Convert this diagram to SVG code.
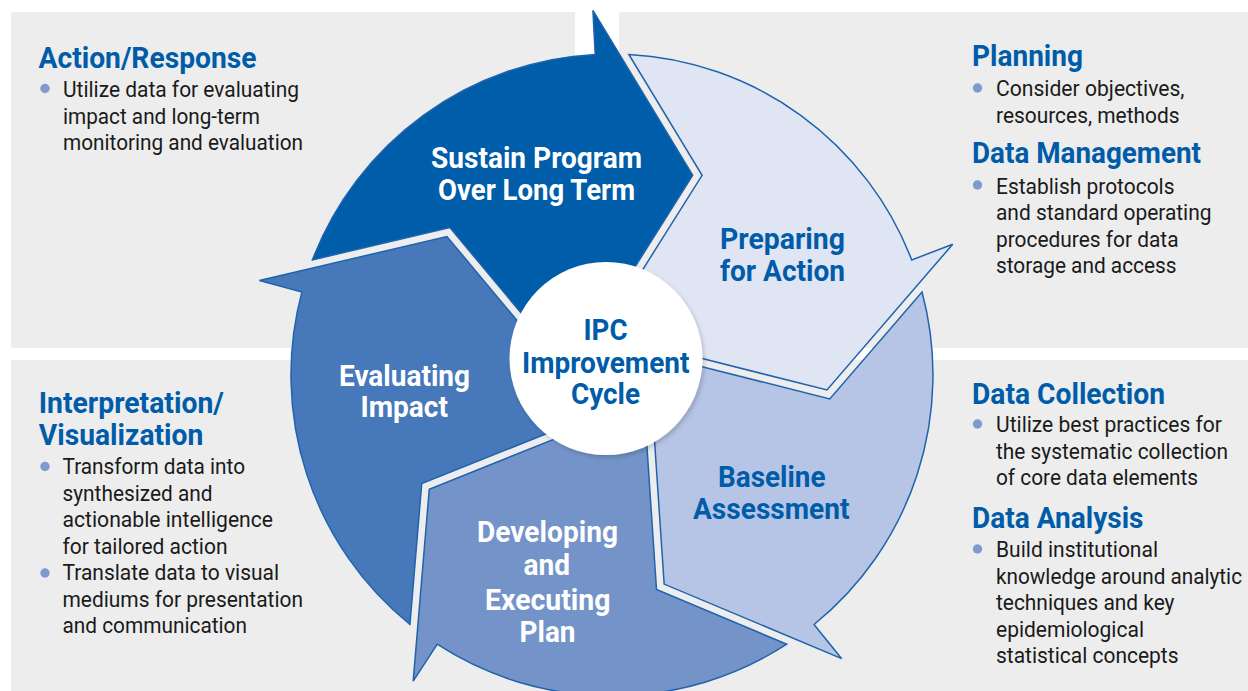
<svg xmlns="http://www.w3.org/2000/svg" xmlns:xlink="http://www.w3.org/1999/xlink" width="1248" height="691" viewBox="0 0 1248 691">
<defs>
<style>
.panel{fill:#EDEDED}
.h{font-family:Roboto,'Liberation Sans',Arial,sans-serif;font-weight:700;font-size:30px;fill:#005CA9}
.b{font-family:Roboto,'Liberation Sans',Arial,sans-serif;font-weight:400;font-size:22.5px;fill:#1A1A1A}
.lw{font-family:Roboto,'Liberation Sans',Arial,sans-serif;font-weight:700;font-size:29.5px;fill:#FFFFFF}
.lb{font-family:Roboto,'Liberation Sans',Arial,sans-serif;font-weight:700;font-size:29.5px;fill:#005CA9}
.c{font-family:Roboto,'Liberation Sans',Arial,sans-serif;font-weight:700;font-size:29.5px;fill:#005CA9}
.dot{fill:#7E9ACE}
.seg{stroke:#1F63AE;stroke-width:1.5;stroke-linejoin:miter}
</style>
<path id="segshape" d="M 312.4 259.9 A 321 321 0 0 1 595.2 54.4 L 592.9 10.5 L 692.7 175.2 L 608.5 309.1 L 554.3 352.8 L 449.9 227.6 Z"/>
<filter id="shadow" x="-20%" y="-20%" width="140%" height="140%">
<feDropShadow dx="2" dy="2.5" stdDeviation="2" flood-color="#000000" flood-opacity="0.18"/>
</filter>
</defs>
<rect width="1248" height="691" fill="#FFFFFF"/>
<g id="panels">
<rect class="panel" x="11" y="12" width="564" height="336"/>
<rect class="panel" x="619" y="12" width="629" height="336"/>
<rect class="panel" x="11" y="360" width="1237" height="331"/>
</g>
<g id="connectors"></g>
<g id="node-sustain">
<use xlink:href="#segshape" class="seg" fill="#005DA9"/>
<text class="lw" x="431" y="167.5" textLength="211" lengthAdjust="spacingAndGlyphs">Sustain Program</text>
<text class="lw" x="438" y="199.5" textLength="197" lengthAdjust="spacingAndGlyphs">Over Long Term</text>
</g>
<g id="node-preparing">
<use xlink:href="#segshape" class="seg" fill="#DFE5F3" transform="rotate(72 612 375)"/>
<text class="lb" x="720" y="249" textLength="125" lengthAdjust="spacingAndGlyphs">Preparing</text>
<text class="lb" x="720" y="281" textLength="125" lengthAdjust="spacingAndGlyphs">for Action</text>
</g>
<g id="node-baseline">
<use xlink:href="#segshape" class="seg" fill="#B6C5E6" transform="rotate(144 612 375)"/>
<text class="lb" x="718" y="487" textLength="107.5" lengthAdjust="spacingAndGlyphs">Baseline</text>
<text class="lb" x="693" y="518.5" textLength="156.5" lengthAdjust="spacingAndGlyphs">Assessment</text>
</g>
<g id="node-developing">
<use xlink:href="#segshape" class="seg" fill="#7494C9" transform="rotate(216 612 375)"/>
<text class="lw" x="477" y="542" textLength="141" lengthAdjust="spacingAndGlyphs">Developing</text>
<text class="lw" x="523.5" y="574.5" textLength="46.5" lengthAdjust="spacingAndGlyphs">and</text>
<text class="lw" x="485" y="609.5" textLength="125.5" lengthAdjust="spacingAndGlyphs">Executing</text>
<text class="lw" x="519.5" y="641.5" textLength="56" lengthAdjust="spacingAndGlyphs">Plan</text>
</g>
<g id="node-evaluating">
<use xlink:href="#segshape" class="seg" fill="#4779BA" transform="rotate(288 612 375)"/>
<text class="lw" x="339" y="385.5" textLength="131" lengthAdjust="spacingAndGlyphs">Evaluating</text>
<text class="lw" x="360.5" y="417" textLength="87.5" lengthAdjust="spacingAndGlyphs">Impact</text>
</g>
<g id="node-center">
<circle cx="606" cy="358.5" r="96.5" fill="#FFFFFF" filter="url(#shadow)"/>
<text class="c" x="583.5" y="340" textLength="44" lengthAdjust="spacingAndGlyphs">IPC</text>
<text class="c" x="522" y="372.5" textLength="167.5" lengthAdjust="spacingAndGlyphs">Improvement</text>
<text class="c" x="571" y="403.5" textLength="69" lengthAdjust="spacingAndGlyphs">Cycle</text>
</g>
<g id="panel-action-response">
<text class="h" x="38.5" y="68" textLength="218" lengthAdjust="spacingAndGlyphs">Action/Response</text>
<circle class="dot" cx="45" cy="88.5" r="4.7"/>
<text class="b" x="63" y="97" textLength="236" lengthAdjust="spacingAndGlyphs">Utilize data for evaluating</text>
<text class="b" x="63" y="123.5" textLength="197" lengthAdjust="spacingAndGlyphs">impact and long-term</text>
<text class="b" x="63" y="150" textLength="240" lengthAdjust="spacingAndGlyphs">monitoring and evaluation</text>
</g>
<g id="panel-planning">
<text class="h" x="972" y="66" textLength="111" lengthAdjust="spacingAndGlyphs">Planning</text>
<circle class="dot" cx="977.5" cy="88" r="4.7"/>
<text class="b" x="996" y="96" textLength="188.5" lengthAdjust="spacingAndGlyphs">Consider objectives,</text>
<text class="b" x="996" y="122.5" textLength="183.5" lengthAdjust="spacingAndGlyphs">resources, methods</text>
<text class="h" x="972" y="163" textLength="229" lengthAdjust="spacingAndGlyphs">Data Management</text>
<circle class="dot" cx="977.5" cy="185" r="4.7"/>
<text class="b" x="996" y="193.5" textLength="178.5" lengthAdjust="spacingAndGlyphs">Establish protocols</text>
<text class="b" x="996" y="220" textLength="215.5" lengthAdjust="spacingAndGlyphs">and standard operating</text>
<text class="b" x="996" y="246.5" textLength="182.5" lengthAdjust="spacingAndGlyphs">procedures for data</text>
<text class="b" x="996" y="273" textLength="180.5" lengthAdjust="spacingAndGlyphs">storage and access</text>
</g>
<g id="panel-interpretation">
<text class="h" x="38.8" y="413" textLength="185" lengthAdjust="spacingAndGlyphs">Interpretation/</text>
<text class="h" x="38.8" y="444.5" textLength="164.5" lengthAdjust="spacingAndGlyphs">Visualization</text>
<circle class="dot" cx="45" cy="466.5" r="4.7"/>
<text class="b" x="62.5" y="474" textLength="182.5" lengthAdjust="spacingAndGlyphs">Transform data into</text>
<text class="b" x="62.5" y="500.5" textLength="150" lengthAdjust="spacingAndGlyphs">synthesized and</text>
<text class="b" x="62.5" y="527" textLength="210.5" lengthAdjust="spacingAndGlyphs">actionable intelligence</text>
<text class="b" x="62.5" y="553.5" textLength="165" lengthAdjust="spacingAndGlyphs">for tailored action</text>
<circle class="dot" cx="45" cy="573" r="4.7"/>
<text class="b" x="62.5" y="580" textLength="216.5" lengthAdjust="spacingAndGlyphs">Translate data to visual</text>
<text class="b" x="62.5" y="606.5" textLength="240.5" lengthAdjust="spacingAndGlyphs">mediums for presentation</text>
<text class="b" x="62.5" y="633" textLength="184.5" lengthAdjust="spacingAndGlyphs">and communication</text>
</g>
<g id="panel-data-collection">
<text class="h" x="972" y="404" textLength="193" lengthAdjust="spacingAndGlyphs">Data Collection</text>
<circle class="dot" cx="977.5" cy="424" r="4.7"/>
<text class="b" x="996" y="432" textLength="226" lengthAdjust="spacingAndGlyphs">Utilize best practices for</text>
<text class="b" x="996" y="458.5" textLength="232" lengthAdjust="spacingAndGlyphs">the systematic collection</text>
<text class="b" x="996" y="485" textLength="202" lengthAdjust="spacingAndGlyphs">of core data elements</text>
<text class="h" x="972" y="528" textLength="171.5" lengthAdjust="spacingAndGlyphs">Data Analysis</text>
<circle class="dot" cx="977.5" cy="549" r="4.7"/>
<text class="b" x="996" y="557" textLength="162" lengthAdjust="spacingAndGlyphs">Build institutional</text>
<text class="b" x="996" y="583.5" textLength="246" lengthAdjust="spacingAndGlyphs">knowledge around analytic</text>
<text class="b" x="996" y="610" textLength="178.5" lengthAdjust="spacingAndGlyphs">techniques and key</text>
<text class="b" x="996" y="636.5" textLength="148" lengthAdjust="spacingAndGlyphs">epidemiological</text>
<text class="b" x="996" y="663" textLength="182.5" lengthAdjust="spacingAndGlyphs">statistical concepts</text>
</g>
</svg>
